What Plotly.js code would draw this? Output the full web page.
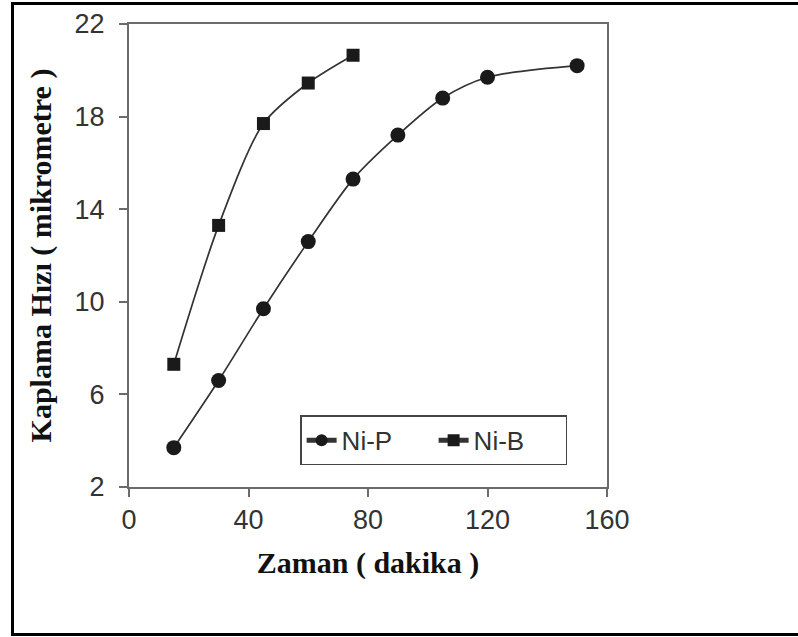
<!DOCTYPE html>
<html>
<head>
<meta charset="utf-8">
<script src="https://cdn.plot.ly/plotly-3.0.1.min.js"></script>
<style>
  html, body { margin: 0; padding: 0; background: #fff; }
  #wrap { position: relative; width: 798px; height: 637px; overflow: hidden; }
  #frame { position: absolute; left: 11px; top: 2px; width: 800px; height: 634px;
           border-left: 3px solid #000; border-top: 3px solid #000; border-bottom: 3px solid #000;
           box-sizing: border-box; pointer-events: none; }
  #chart { position: absolute; left: 0; top: 0; width: 798px; height: 637px; }
</style>
</head>
<body>
<div id="wrap">
  <div id="chart"></div>
  <div id="frame"></div>
</div>
<script>
// Coating thickness against time for two electroless coatings
const timeNiP = [15, 30, 45, 60, 75, 90, 105, 120, 150];
const thickNiP = [3.7, 6.6, 9.7, 12.6, 15.3, 17.2, 18.8, 19.7, 20.2];
const timeNiB = [15, 30, 45, 60, 75];
const thickNiB = [7.3, 13.3, 17.7, 19.45, 20.65];
const xTicks = [0, 40, 80, 120, 160];
const yTicks = [2, 6, 10, 14, 18, 22];

const lineStyle = { color: '#333', width: 1.7, shape: 'spline', smoothing: 0.8 };

const traces = [
  {
    x: timeNiP, y: thickNiP, name: 'Ni-P', type: 'scatter', mode: 'lines+markers',
    line: lineStyle,
    marker: { symbol: 'circle', size: 15, color: '#1a1a1a' }
  },
  {
    x: timeNiB, y: thickNiB, name: 'Ni-B', type: 'scatter', mode: 'lines+markers',
    line: lineStyle,
    marker: { symbol: 'square', size: 13, color: '#1a1a1a' }
  }
];

const tickFont = { family: 'Liberation Sans, Arial, sans-serif', size: 27, color: '#333' };
const titleFont = { family: 'Liberation Serif, Times New Roman, serif', size: 30, color: '#111', weight: 'bold' };

const axisCommon = {
  showgrid: false, zeroline: false,
  showline: true, linecolor: '#6b6b6b', linewidth: 2, mirror: true,
  ticks: 'outside', ticklen: 8, tickwidth: 2, tickcolor: '#6b6b6b',
  tickfont: tickFont
};

const layout = {
  width: 798, height: 637,
  margin: { l: 129, r: 191, t: 24, b: 150 },
  paper_bgcolor: '#fff', plot_bgcolor: '#fff',
  showlegend: true,
  xaxis: Object.assign({}, axisCommon, {
    range: [0, 160], tickvals: xTicks, ticktext: xTicks.map(String),
    title: { text: 'Zaman ( dakika )', standoff: 18, font: titleFont }
  }),
  yaxis: Object.assign({}, axisCommon, {
    range: [2, 22], tickvals: yTicks, ticktext: yTicks.map(String),
    ticklabelstandoff: 9,
    title: { text: 'Kaplama Hızı ( mikrometre )', standoff: 14, font: titleFont }
  }),
  legend: {
    orientation: 'h', x: 0.358, y: 0.047, xanchor: 'left', yanchor: 'bottom',
    bgcolor: '#fff', bordercolor: '#444', borderwidth: 1.5,
    font: { family: 'Liberation Sans, Arial, sans-serif', size: 26, color: '#333' },
    itemsizing: 'constant', entrywidth: 87
  }
};

Plotly.newPlot('chart', traces, layout, { displayModeBar: false, staticPlot: true });
</script>
</body>
</html>
